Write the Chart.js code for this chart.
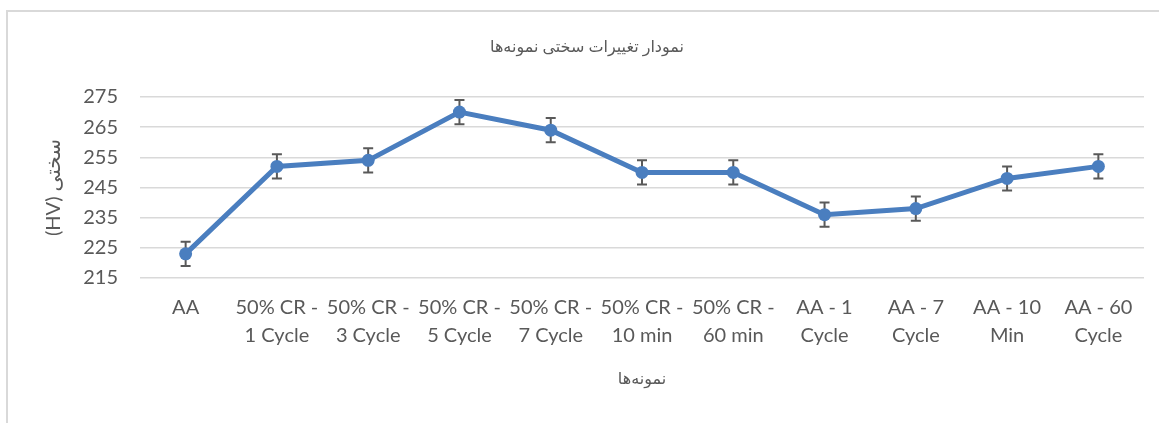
<!DOCTYPE html>
<html lang="fa">
<head>
<meta charset="utf-8">
<title>نمودار تغییرات سختی نمونه‌ها</title>
<script src="https://cdn.jsdelivr.net/npm/chart.js@4/dist/chart.umd.min.js"></script>
<style>
    html, body { margin: 0; padding: 0; background: #fff; overflow: hidden; }
    #wrap { position: relative; width: 1159px; height: 423px; }
    #frame {
        position: absolute; left: 6px; top: 10px; width: 1300px; height: 600px;
        border-left: 2px solid #d9d9d9; border-top: 2px solid #d9d9d9;
    }
    canvas { position: absolute; left: 0; top: 0; }
</style>
</head>
<body>
<div id="wrap">
    <div id="frame"></div>
    <canvas id="hardnessChart" width="1159" height="423"></canvas>
</div>
<script>
// sample names (two-line tick labels)
const categories = [
    ['AA'],
    ['50% CR -', '1 Cycle'],
    ['50% CR -', '3 Cycle'],
    ['50% CR -', '5 Cycle'],
    ['50% CR -', '7 Cycle'],
    ['50% CR -', '10 min'],
    ['50% CR -', '60 min'],
    ['AA - 1', 'Cycle'],
    ['AA - 7', 'Cycle'],
    ['AA - 10', 'Min'],
    ['AA - 60', 'Cycle']
];

// hardness (HV) and error bar half-range
const hardness = [223, 252, 254, 270, 264, 250, 250, 236, 238, 248, 252];
const hardnessError = [4, 4, 4, 4, 4, 4, 4, 4, 4, 4, 4];

const yTicks = [215, 225, 235, 245, 255, 265, 275];

const chartTitle = 'نمودار تغییرات سختی نمونه‌ها';
const xTitle = 'نمونه‌ها';
const yTitle = '\u202Bسختی (HV)\u202C';

const textColor = '#595959';
const lineColor = '#4a7ebf';
const fontFamily = "Lato, 'DejaVu Sans', sans-serif";

// error bars are drawn under the line and markers
const errorBars = {
    id: 'errorBars',
    beforeDatasetsDraw(chart) {
        const ctx = chart.ctx;
        const yScale = chart.scales.y;
        const meta = chart.getDatasetMeta(0);
        ctx.save();
        ctx.strokeStyle = '#595959';
        ctx.lineWidth = 2;
        meta.data.forEach((pt, i) => {
            const top = yScale.getPixelForValue(hardness[i] + hardnessError[i]);
            const bottom = yScale.getPixelForValue(hardness[i] - hardnessError[i]);
            ctx.beginPath();
            ctx.moveTo(pt.x, top);
            ctx.lineTo(pt.x, bottom);
            ctx.moveTo(pt.x - 5, top);
            ctx.lineTo(pt.x + 5, top);
            ctx.moveTo(pt.x - 5, bottom);
            ctx.lineTo(pt.x + 5, bottom);
            ctx.stroke();
        });
        ctx.restore();
    }
};

new Chart(document.getElementById('hardnessChart'), {
    type: 'line',
    data: {
        labels: categories,
        datasets: [{
            data: hardness,
            borderColor: lineColor,
            backgroundColor: lineColor,
            borderWidth: 5,
            pointRadius: 6.5,
            pointBorderWidth: 0,
            tension: 0
        }]
    },
    options: {
        responsive: false,
        animation: false,
        layout: { padding: { left: 30, right: 15, top: 0, bottom: 0 } },
        plugins: {
            legend: { display: false },
            tooltip: { enabled: false },
            title: {
                display: true,
                text: chartTitle,
                color: textColor,
                font: { family: fontFamily, size: 16, weight: 'normal', lineHeight: 1.2 },
                padding: { top: 37, bottom: 40.8 }
            }
        },
        scales: {
            x: {
                offset: true,
                grid: { display: false },
                border: { display: false },
                ticks: {
                    color: textColor,
                    font: { family: fontFamily, size: 20, lineHeight: 1.4 },
                    padding: 8,
                    maxRotation: 0,
                    autoSkip: false
                },
                title: {
                    display: true,
                    text: xTitle,
                    color: textColor,
                    font: { family: fontFamily, size: 16, lineHeight: 1.2 },
                    padding: { top: 0, bottom: 35 }
                },
                afterFit(scale) { scale.height = 145; }
            },
            y: {
                min: yTicks[0],
                max: yTicks[yTicks.length - 1],
                afterBuildTicks(scale) { scale.ticks = yTicks.map(v => ({ value: v })); },
                grid: { color: '#d9d9d9', lineWidth: 1.5, drawTicks: false },
                border: { display: false },
                ticks: {
                    color: textColor,
                    font: { family: fontFamily, size: 20 },
                    padding: 22
                },
                title: {
                    display: true,
                    text: yTitle,
                    color: textColor,
                    font: { family: fontFamily, size: 20, lineHeight: 1.2 },
                    padding: { top: 12, bottom: 0 }
                },
                afterFit(scale) { scale.width = 110; }
            }
        }
    },
    plugins: [errorBars]
});
</script>
</body>
</html>
